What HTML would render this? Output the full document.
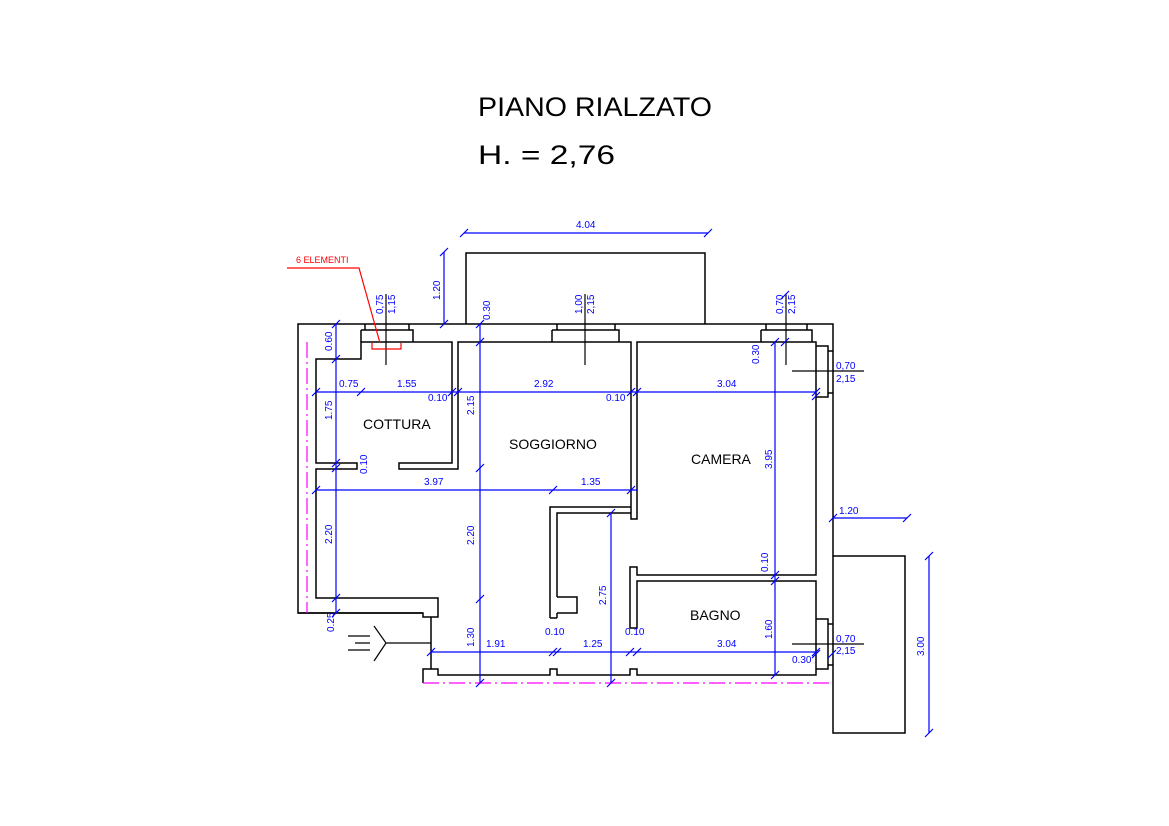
<!DOCTYPE html>
<html><head><meta charset="utf-8"><style>
html,body{margin:0;padding:0;background:#fff}
svg{display:block}
.w{fill:none;stroke:#000;stroke-width:1.5}
.d{fill:none;stroke:#0000ff;stroke-width:1.2}
.m{fill:none;stroke:#ff00ff;stroke-width:1.2;stroke-dasharray:16 4 2 4}
.t{font-family:"Liberation Sans",sans-serif;font-size:10px;fill:#0000ff}
.r{font-family:"Liberation Sans",sans-serif;font-size:14px;fill:#000}
</style></head><body>
<svg width="1169" height="826" viewBox="0 0 1169 826" xmlns="http://www.w3.org/2000/svg">
<text x="478" y="116" font-family="Liberation Sans,sans-serif" font-size="27" textLength="234" lengthAdjust="spacingAndGlyphs" fill="#000">PIANO RIALZATO</text>
<text x="478" y="164" font-family="Liberation Sans,sans-serif" font-size="27" textLength="137" lengthAdjust="spacingAndGlyphs" fill="#000">H. = 2,76</text>

<!-- walls -->
<g class="w">
<path d="M466 324 V253 H705 V324"/>
<path d="M423 613 H298 V324 H833 V556"/>
<path d="M298 613 H423 V617 H438 V598 H316 V469 H357 V463 H316 V359 H361 V342 H452 V463 H399 V469 H458 V342 H631 V519 H637 V342 H816 V575 H637 V567 H630 V628 H637 V581 H816 V675 H637 V669 H630 V675 H557 V669 H550 V675 H438 V669 H423 V683"/>
<path d="M550 618 V507 H631 M557 618 H550 M557 618 V613 M557 597 V513 H631 M557 597 H577 V613 H557"/>
<!-- windows -->
<path d="M365 324 V330 H409 V324 M361 330 H413 V342 M361 330 V342"/>
<path d="M557 324 V330 H615 V324 M552 330 H619 V342 M552 330 V342"/>
<path d="M766 324 V330 H807 V324 M761 330 H812 V342 M761 330 V342"/>
<path d="M816 346 H828 V397 H816 M828 351 H833 M828 393 H833"/>
<path d="M816 619 H828 V669 H816 M828 624 H833 M828 665 H833"/>
<rect x="833" y="556" width="72" height="177"/>
<path d="M431 617 V669"/>
<path d="M386 643 H431 M374 626 L386 643 L374 661 M348 636 H370 M355 643 H370 M348 650 H370" stroke-width="1.2"/>
<!-- window markers -->
<path d="M386 294 V365 M585 294 V365 M786 294 V365 M792 371 H864 M792 644 H864" stroke-width="1.2"/>
</g>
<path class="m" d="M307 342 V613"/>
<path class="m" d="M423 683 H833"/>

<!-- 6 elementi -->
<g stroke="#ff0000" fill="none" stroke-width="1.2">
<path d="M287 268 H359 L380 343"/>
<path d="M372 343 V349 H401 V343"/>
</g>
<text x="296" y="263" font-family="Liberation Sans,sans-serif" font-size="9" fill="#ff0000">6 ELEMENTI</text>

<!-- dimension lines -->
<g class="d">
<path d="M464 233 H708"/>
<path d="M444 252 V324"/>
<path d="M480 324 V683"/>
<path d="M336 324 V613"/>
<path d="M316 392 H816"/>
<path d="M316 490 H637"/>
<path d="M611 513 V683"/>
<path d="M775 342 V675"/>
<path d="M431 652 H816"/>
<path d="M833 518 H907"/>
<path d="M929 556 V733"/>
<!-- ticks -->
<path d="M460 237 L468 229 M704 237 L712 229
M440 256 L448 248 M440 328 L448 320
M476 328 L484 320 M476 346 L484 338 M476 472 L484 464 M476 603 L484 595 M476 687 L484 679
M332 328 L340 320 M332 363 L340 355 M332 467 L340 459 M332 472 L340 464 M332 602 L340 594 M332 617 L340 609
M312 396 L320 388 M357 396 L365 388 M448 396 L456 388 M454 396 L462 388 M627 396 L635 388 M633 396 L641 388 M812 396 L820 388
M312 494 L320 486 M549 494 L557 486 M627 494 L635 486
M607 517 L615 509 M607 687 L615 679
M771 346 L779 338 M771 579 L779 571 M771 585 L779 577 M771 679 L779 671
M427 656 L435 648 M549 656 L557 648 M553 656 L561 648 M626 656 L634 648 M633 656 L641 648 M812 656 L820 648
M829 522 L837 514 M903 522 L911 514
M925 560 L933 552 M925 737 L933 729"/>
<path d="M781 299 L789 291 M781 346 L789 338 M812 400 L820 392 M812 658 L820 650 M828 658 L836 650"/>
</g>

<!-- dimension texts -->
<g class="t">
<text x="576" y="228">4.04</text>
<text x="839" y="514">1.20</text>
<text x="339" y="387">0.75</text>
<text x="397" y="387">1.55</text>
<text x="428" y="401">0.10</text>
<text x="534" y="387">2.92</text>
<text x="606" y="401">0.10</text>
<text x="717" y="387">3.04</text>
<text x="424" y="485">3.97</text>
<text x="581" y="485">1.35</text>
<text x="486" y="647">1.91</text>
<text x="583" y="647">1.25</text>
<text x="717" y="647">3.04</text>
<text x="545" y="635">0.10</text>
<text x="625" y="635">0.10</text>
<text x="792" y="663">0.30</text>
<text x="836" y="369">0,70</text>
<text x="836" y="382">2,15</text>
<text x="836" y="642">0,70</text>
<text x="836" y="654">2,15</text>
<g transform="rotate(-90)">
<text x="-300" y="440">1.20</text>
<text x="-320" y="490">0.30</text>
<text x="-415" y="474">2.15</text>
<text x="-545" y="474">2.20</text>
<text x="-647" y="474">1.30</text>
<text x="-351" y="332">0.60</text>
<text x="-420" y="332">1.75</text>
<text x="-474" y="367">0.10</text>
<text x="-544" y="332">2.20</text>
<text x="-632" y="334">0.25</text>
<text x="-605" y="606">2.75</text>
<text x="-364" y="759">0.30</text>
<text x="-469" y="772">3.95</text>
<text x="-572" y="768">0.10</text>
<text x="-639" y="772">1.60</text>
<text x="-656" y="924">3.00</text>
<text x="-314" y="383">0,75</text>
<text x="-314" y="395">1,15</text>
<text x="-314" y="582">1,00</text>
<text x="-314" y="594">2,15</text>
<text x="-314" y="783">0,70</text>
<text x="-314" y="795">2,15</text>
</g>
</g>

<!-- room labels -->
<text class="r" x="363" y="429">COTTURA</text>
<text class="r" x="509" y="449">SOGGIORNO</text>
<text class="r" x="691" y="464">CAMERA</text>
<text class="r" x="690" y="620">BAGNO</text>
</svg>
</body></html>
